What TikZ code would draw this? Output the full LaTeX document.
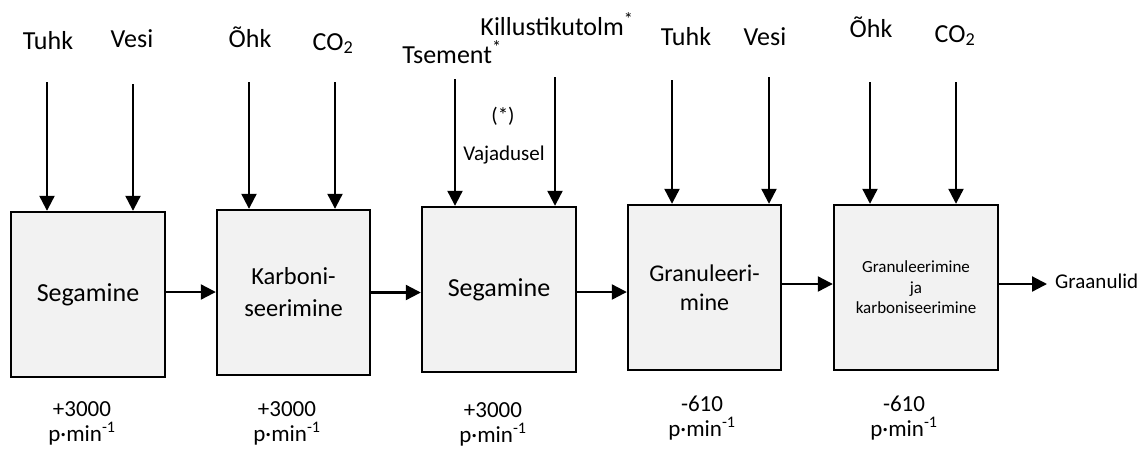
\documentclass[tikz,border=0pt]{standalone}
\usepackage{fontspec}
\setmainfont{Carlito}
\usetikzlibrary{arrows.meta}
\definecolor{boxgray}{HTML}{F2F2F2}
\begin{document}
\begin{tikzpicture}[x=1pt,y=-1pt,
  box/.style={draw, line width=2.4pt, fill=boxgray, minimum width=#1, minimum height=165pt, inner sep=0pt, align=center},
  arr/.style={line width=2.2pt, -{Triangle[length=15pt,width=15pt]}},
  lbl/.style={font=\fontsize{26}{31}\selectfont, inner sep=0pt, anchor=base},
  bot/.style={font=\fontsize{23}{25}\selectfont, inner sep=0pt, anchor=north, align=center},
  small/.style={font=\fontsize{21}{25}\selectfont, inner sep=0pt, anchor=base}]
\useasboundingbox (0,0) rectangle (1142,451);

% boxes
\node[box=154pt, font=\fontsize{26}{31}\selectfont] (b1) at (88,294.5) {Segamine};
\node[box=153pt, font=\fontsize{24.5}{32}\selectfont] (b2) at (293.5,292.5) {Karboni-\\seerimine};
\node[box=154pt, font=\fontsize{26}{31}\selectfont] (b3) at (499,289.5) {Segamine};
\node[box=153pt, font=\fontsize{24}{29}\selectfont] (b4) at (704.5,287.5) {Granuleeri-\\mine};
\node[box=164pt, font=\fontsize{17}{20.5}\selectfont] (b5) at (916,287.5) {Granuleerimine\\ja\\karboniseerimine};

% horizontal connectors
\draw[arr] ([yshift=2.5pt]b1.east) -- ([yshift=2.5pt]b1.east -| b2.west);
\draw[arr] (b2.east) -- (b2.east -| b3.west);
\draw[arr] ([yshift=-2.5pt]b3.east) -- ([yshift=-2.5pt]b3.east -| b4.west);
\draw[arr] ([yshift=3.5pt]b4.east) -- ([yshift=3.5pt]b4.east -| b5.west);
\coordinate (gend) at (1047,284);
\draw[arr] (b5.east |- gend) -- (gend);
\node[small, anchor=west] (gr) at (1055,281) {Graanulid};

% top labels
\node[lbl] (l1) at (48,49) {Tuhk};
\node[lbl] (l2) at (132,47) {Vesi};
\node[lbl] (l3) at (250,47) {Õhk};
\node[lbl] (l4) at (333,50) {CO\textsubscript{2}};
\node[lbl] (l5) at (452,63) {Tsement\textsuperscript{*}};
\node[lbl] (l6) at (557,35) {Killustikutolm\textsuperscript{*}};
\node[lbl] (l7) at (686,45) {Tuhk};
\node[lbl] (l8) at (765,45) {Vesi};
\node[lbl] (l9) at (871,37) {Õhk};
\node[lbl] (l10) at (955,42) {CO\textsubscript{2}};
\node[small] (n1) at (503,122) {(*)};
\node[small] (n2) at (504,160) {Vajadusel};

% vertical connectors
\coordinate (s1) at (47,82);
\coordinate (s2) at (133,84);
\coordinate (s3) at (249,82);
\coordinate (s4) at (335,82);
\coordinate (s5) at (455,79);
\coordinate (s6) at (555,77);
\coordinate (s7) at (672,80);
\coordinate (s8) at (769,77);
\coordinate (s9) at (870,82);
\coordinate (s10) at (956,82);
\draw[arr] (s1) -- (s1 |- b1.north);
\draw[arr] (s2) -- (s2 |- b1.north);
\draw[arr] (s3) -- (s3 |- b2.north);
\draw[arr] (s4) -- (s4 |- b2.north);
\draw[arr] (s5) -- (s5 |- b3.north);
\draw[arr] (s6) -- (s6 |- b3.north);
\draw[arr] (s7) -- (s7 |- b4.north);
\draw[arr] (s8) -- (s8 |- b4.north);
\draw[arr] (s9) -- (s9 |- b5.north);
\draw[arr] (s10) -- (s10 |- b5.north);

% bottom labels
\node[bot] (v1) at (82,401) {+3000\\p·min\textsuperscript{-1}};
\node[bot] (v2) at (287,401) {+3000\\p·min\textsuperscript{-1}};
\node[bot] (v3) at (493,402) {+3000\\p·min\textsuperscript{-1}};
\node[bot] (v4) at (702,396) {-610\\p·min\textsuperscript{-1}};
\node[bot] (v5) at (904,396) {-610\\p·min\textsuperscript{-1}};
\end{tikzpicture}
\end{document}
